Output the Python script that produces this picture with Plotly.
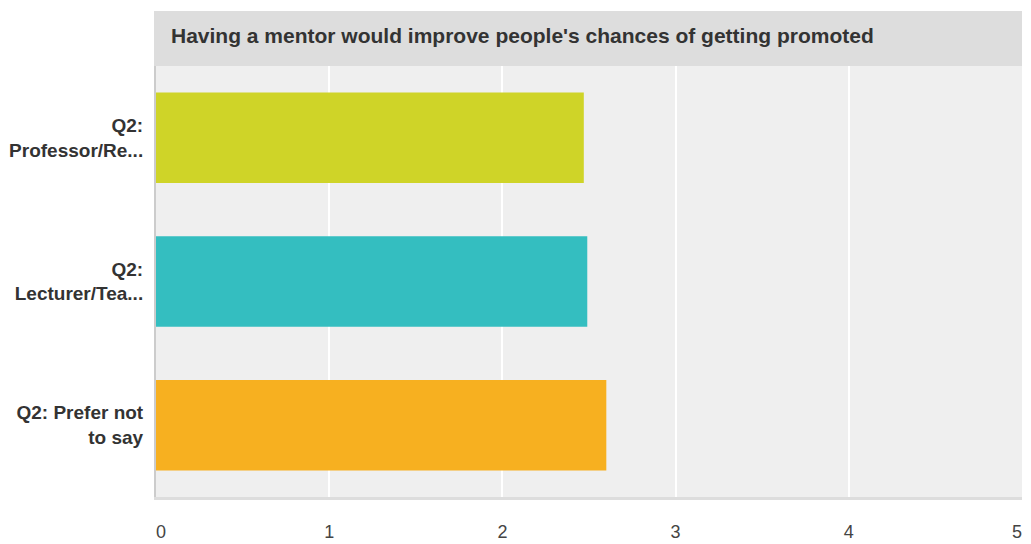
import plotly.graph_objects as go

categories = ["Q2:<br>Professor/Re...", "Q2:<br>Lecturer/Tea...", "Q2: Prefer not<br>to say"]
values = [2.47, 2.49, 2.60]
colors = ["#cfd428", "#34bec0", "#f7b020"]
title_text = "Having a mentor would improve people's chances of getting promoted"
tick_vals = [0, 1, 2, 3, 4, 5]
tick_text = ["  0", "1", "2", "3", "4", "5  "]

FONT = "Liberation Sans, Arial, sans-serif"

fig = go.Figure()
fig.add_trace(go.Bar(
    y=categories, x=values, orientation="h",
    marker=dict(color=colors, line=dict(width=0)),
    hoverinfo="x+y",
))

# page body has an 8px default margin; compensate
W, H = 1023, 536
L, R, T, B = 148, 9, 58, 47
pw = W - L - R
ph = H - T - B

fig.update_layout(
    width=W, height=H,
    margin=dict(l=L, r=R, t=T, b=B, pad=0, autoexpand=False),
    paper_bgcolor="white",
    plot_bgcolor="#efefef",
    bargap=0.37,
    showlegend=False,
    font=dict(family=FONT, color="#333333"),
    xaxis=dict(
        range=[0, 5], tickvals=tick_vals, ticktext=tick_text,
        showgrid=True, gridcolor="white", gridwidth=2,
        zeroline=False, showline=True, linecolor="#dddddd", linewidth=3,
        ticks="", tickfont=dict(size=18, color="#444444", family=FONT),
        ticklabelstandoff=16, fixedrange=True, automargin=False,
        ticklabeloverflow="allow",
    ),
    yaxis=dict(
        categoryorder="array", categoryarray=categories, autorange="reversed",
        tickvals=categories, ticktext=["<b>" + c + "</b>" for c in categories],
        showgrid=False, zeroline=False, showline=True, linecolor="#cccccc", linewidth=2,
        ticks="", tickfont=dict(size=19, color="#333333", family=FONT),
        ticklabelstandoff=7, fixedrange=True, automargin=False,
    ),
    shapes=[dict(
        type="rect", xref="paper", yref="paper",
        x0=-2 / pw, x1=1.0, y0=1.0, y1=1 + 55 / ph,
        fillcolor="#dddddd", line=dict(width=0), layer="below",
    )],
    annotations=[dict(
        text="<b>" + title_text + "</b>", xref="paper", yref="paper",
        x=13 / pw, y=1 + 30 / ph, xanchor="left", yanchor="middle",
        showarrow=False, font=dict(size=21, color="#333333", family=FONT),
    )],
)

fig.write_html("out.html")
